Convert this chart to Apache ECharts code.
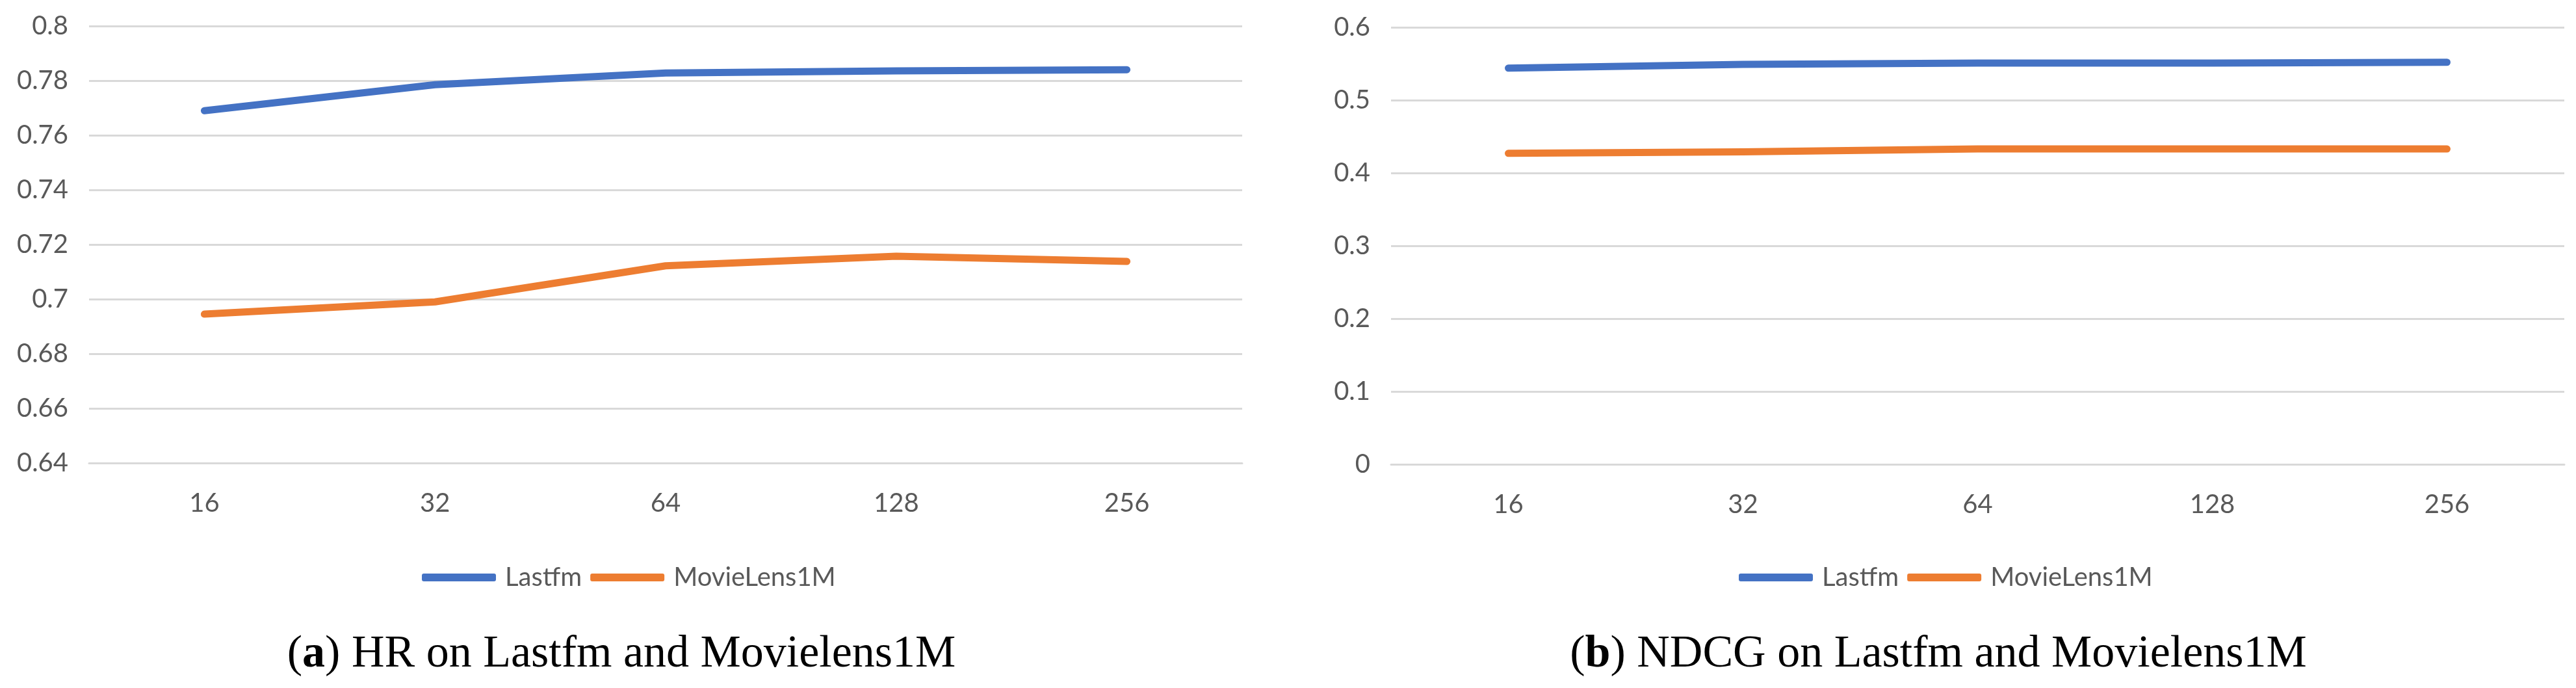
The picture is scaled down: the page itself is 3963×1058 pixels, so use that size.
<!DOCTYPE html>
<html>
<head>
<meta charset="utf-8">
<script src="https://cdn.jsdelivr.net/npm/echarts@6/dist/echarts.min.js"></script>
<style>
html,body{margin:0;padding:0;background:#fff;}
#main{width:3963px;height:1058px;}
</style>
</head>
<body>
<div id="main"></div>
<script>
const categories = ['16', '32', '64', '128', '256'];
const seriesNames = ['Lastfm', 'MovieLens1M'];
const hrLastfm = [0.769, 0.7785, 0.7828, 0.7836, 0.784];
const hrMovieLens = [0.6945, 0.699, 0.7122, 0.7157, 0.7138];
const ndcgLastfm = [0.544, 0.549, 0.551, 0.551, 0.552];
const ndcgMovieLens = [0.427, 0.429, 0.433, 0.433, 0.433];
const captionA = ['(', 'a', ') HR on Lastfm and Movielens1M'];
const captionB = ['(', 'b', ') NDCG on Lastfm and Movielens1M'];

const BLUE = '#4472C4', ORANGE = '#ED7D31', TXT = '#595959', GRIDC = '#D9D9D9';
const FONT = 'Lato, "Open Sans", sans-serif';

function yAxis(idx, min, max, interval) {
  return {
    type: 'value', gridIndex: idx, min: min, max: max, interval: interval,
    axisLine: {show: false}, axisTick: {show: false},
    splitLine: {lineStyle: {color: GRIDC, width: 3}},
    axisLabel: {color: TXT, fontSize: 40, fontFamily: FONT, margin: 32}
  };
}
function xAxis(idx) {
  return {
    type: 'category', gridIndex: idx, data: categories, boundaryGap: true,
    axisLine: {lineStyle: {color: GRIDC, width: 3}}, axisTick: {show: false},
    axisLabel: {color: TXT, fontSize: 40, fontFamily: FONT, margin: 42, lineHeight: 40}
  };
}
function line(name, data, idx, color) {
  return {
    name: name, type: 'line', xAxisIndex: idx, yAxisIndex: idx, data: data,
    showSymbol: false, symbol: 'none', smooth: false,
    lineStyle: {color: color, width: 11, cap: 'round', join: 'round'},
    itemStyle: {color: color}, animation: false
  };
}
function legend(left) {
  return {
    left: left, top: 863, orient: 'horizontal', icon: 'roundRect',
    itemWidth: 114, itemHeight: 12, itemGap: 13,
    data: seriesNames,
    textStyle: {color: TXT, fontSize: 40, fontFamily: FONT, padding: [0, 0, 0, 9]}
  };
}
function caption(x, parts) {
  return {
    type: 'text', x: x, y: 1007,
    style: {
      text: '{r|' + parts[0] + '}{bd|' + parts[1] + '}{r|' + parts[2] + '}',
      rich: {
        r: {font: '70px "Liberation Serif", serif', fill: '#000'},
        bd: {font: 'bold 70px "Liberation Serif", serif', fill: '#000'}
      },
      align: 'center', verticalAlign: 'middle'
    }
  };
}

const chart = echarts.init(document.getElementById('main'), null, {renderer: 'canvas'});
chart.setOption({
  backgroundColor: '#fff',
  animation: false,
  grid: [
    {left: 137, right: 2052, top: 40, bottom: 346},
    {left: 2140, right: 18, top: 42, bottom: 344}
  ],
  xAxis: [xAxis(0), xAxis(1)],
  yAxis: [yAxis(0, 0.64, 0.8, 0.02), yAxis(1, 0, 0.6, 0.1)],
  legend: [
    Object.assign(legend(644), {}),
    Object.assign(legend(2670), {})
  ],
  series: [
    line(seriesNames[0], hrLastfm, 0, BLUE),
    line(seriesNames[1], hrMovieLens, 0, ORANGE),
    line(seriesNames[0], ndcgLastfm, 1, BLUE),
    line(seriesNames[1], ndcgMovieLens, 1, ORANGE)
  ],
  graphic: [caption(956, captionA), caption(2982, captionB)]
});
</script>
</body>
</html>
